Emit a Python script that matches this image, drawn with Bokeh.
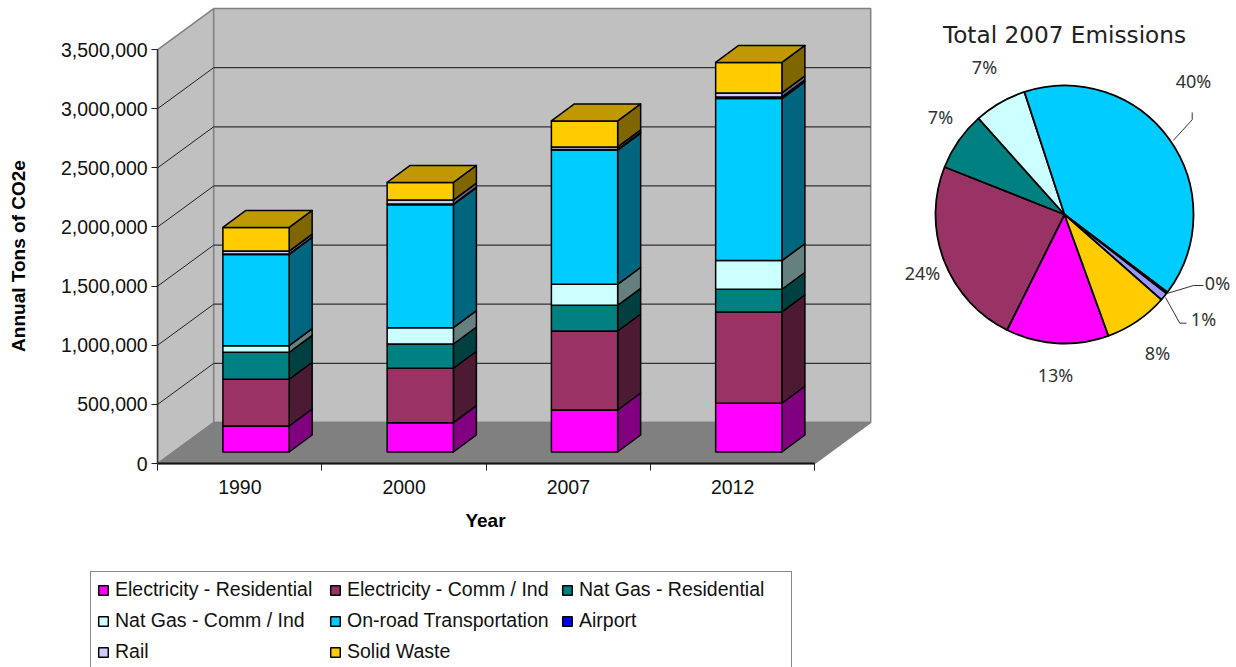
from bokeh.embed import file_html
from bokeh.resources import INLINE
from bokeh.plotting import figure
from bokeh.models import (Range1d, FixedTicker, NumeralTickFormatter, Legend, LegendItem, Label)
from bokeh.core.properties import value
import math

years = ["1990", "2000", "2007", "2012"]
series = ["Electricity - Residential", "Electricity - Comm / Ind", "Nat Gas - Residential",
          "Nat Gas - Comm / Ind", "On-road Transportation", "Airport", "Rail", "Solid Waste"]
elec_res = [220000, 248000, 355000, 412000]
elec_com = [395000, 460000, 668000, 772000]
gas_res = [228000, 205000, 217000, 192000]
gas_com = [56000, 138000, 178000, 242000]
onroad = [771000, 1040000, 1135000, 1370000]
airport = [4000, 5000, 5000, 14000]
rail = [25000, 34000, 21000, 34000]
waste = [200000, 149000, 220000, 258000]
stacks = [elec_res, elec_com, gas_res, gas_com, onroad, airport, rail, waste]

pie_title = "Total 2007 Emissions"
pie_share = [12.9, 23.7, 7.4, 6.6, 40.4, 0.2, 1.0, 8.0]
pie_text = ["13%", "24%", "7%", "7%", "40%", "0%", "1%", "8%"]

# ---- styles / layout ----
front = ["#ff00ff", "#993366", "#008080", "#ccffff", "#00ccff", "#0000ff", "#ccccff", "#ffcc00"]
side = ["#800080", "#4d1a33", "#004040", "#668080", "#006680", "#000080", "#666680", "#806600"]
top_face = "#c09900"
pie_colors = ["#ff00ff", "#993366", "#008080", "#ccffff", "#00ccff", "#0000ff", "#9999ff", "#ffcc00"]

W, H = 1236, 667
X0, Y0 = 157.2, 463.0            # canvas position of the axes' origin
PX_X = 164.25                    # px per category
PX_Y = 118.28 / 1e6              # px per ton
FONT = "Liberation Sans"
TICK_SIZE = "19.5px"
BOLD_SIZE = "19px"

wall_dx, wall_dy = 56 / PX_X, 41 / PX_Y
bar_dx, bar_dy = 23 / PX_X, 17 / PX_Y
bar_l, bar_w = 65.2 / PX_X, 66.25 / PX_X
bar_base = 11.5 / PX_Y
YMAX_AXIS = 3500000

p = figure(width=W, height=H, output_backend="svg", toolbar_location=None,
           min_border_left=0, min_border_bottom=0, min_border_right=0, min_border_top=0,
           x_range=Range1d(-X0 / PX_X, (W - X0) / PX_X),
           y_range=Range1d(-(H - Y0) / PX_Y, Y0 / PX_Y),
           outline_line_color=None)
p.grid.visible = False

# walls and floor
wall_line = "#808080"
p.patch([0, wall_dx, wall_dx, 0], [0, wall_dy, YMAX_AXIS + wall_dy, YMAX_AXIS],
        fill_color="#c0c0c0", line_color=wall_line, line_width=1.5)
p.patch([wall_dx, 4 + wall_dx, 4 + wall_dx, wall_dx],
        [wall_dy, wall_dy, YMAX_AXIS + wall_dy, YMAX_AXIS + wall_dy],
        fill_color="#c0c0c0", line_color=wall_line, line_width=1.5)
p.patch([0, 4, 4 + wall_dx, wall_dx], [0, 0, wall_dy, wall_dy],
        fill_color="#808080", line_color=wall_line, line_width=1.5)

# gridlines on both walls
levels = list(range(500000, YMAX_AXIS + 1, 500000))
grid_levels = levels[:-1]
p.segment([0] * len(grid_levels), grid_levels, [wall_dx] * len(grid_levels),
          [v + wall_dy for v in grid_levels], line_color="#222222", line_width=1)
p.segment([wall_dx] * len(grid_levels), [v + wall_dy for v in grid_levels],
          [4 + wall_dx] * len(grid_levels), [v + wall_dy for v in grid_levels],
          line_color="#333333", line_width=1.2)

# 3-D stacked bars
legend_renderers = [None] * len(series)
for b in range(len(years)):
    x0 = b + bar_l
    x1 = x0 + bar_w
    base = bar_base
    for s, vals in enumerate(stacks):
        top = base + vals[b]
        p.patch([x1, x1 + bar_dx, x1 + bar_dx, x1], [base, base + bar_dy, top + bar_dy, top],
                fill_color=side[s], line_color="black", line_width=1.5, line_join="round")
        r = p.quad(left=[x0], right=[x1], bottom=[base], top=[top],
                   fill_color=front[s], line_color="black", line_width=1.5)
        if legend_renderers[s] is None:
            legend_renderers[s] = r
        base = top
    p.patch([x0, x1, x1 + bar_dx, x0 + bar_dx], [base, base, base + bar_dy, base + bar_dy],
            fill_color=top_face, line_color="black", line_width=1.5, line_join="round")

# axes
xa = p.xaxis[0]
xa.fixed_location = 0
xa.bounds = (0, 4)
xa.ticker = FixedTicker(ticks=[i + 0.5 for i in range(4)], minor_ticks=list(range(5)))
xa.major_label_overrides = {i + 0.5: years[i] for i in range(4)}
xa.major_tick_in = 0
xa.major_tick_out = 0
xa.minor_tick_in = 0
xa.minor_tick_out = 7
xa.minor_tick_line_color = "#222222"
xa.axis_line_color = "#111111"
xa.axis_line_width = 2
xa.major_label_standoff = 9
xa.major_label_text_font = FONT
xa.major_label_text_font_size = TICK_SIZE
xa.major_label_text_color = "#111111"

ya = p.yaxis[0]
ya.fixed_location = 0
ya.bounds = (0, YMAX_AXIS)
ya.ticker = FixedTicker(ticks=[0] + levels)
ya.formatter = NumeralTickFormatter(format="0,0")
ya.major_tick_in = 0
ya.major_tick_out = 6
ya.minor_tick_in = 0
ya.minor_tick_out = 0
ya.major_tick_line_color = "#222222"
ya.axis_line_color = "#333333"
ya.axis_line_width = 1.5
ya.major_label_standoff = 4
ya.major_label_text_font = FONT
ya.major_label_text_font_size = TICK_SIZE
ya.major_label_text_color = "#111111"

# axis titles
p.add_layout(Label(x=(485 - X0) / PX_X, y=-(520 - Y0) / PX_Y, text="Year",
                   text_font=FONT, text_font_size=BOLD_SIZE, text_font_style="bold",
                   text_align="center", text_baseline="middle", text_color="black"))
p.add_layout(Label(x=(18 - X0) / PX_X, y=-(255.5 - Y0) / PX_Y, text="Annual Tons of CO2e",
                   angle=90, angle_units="deg",
                   text_font=FONT, text_font_size=BOLD_SIZE, text_font_style="bold",
                   text_align="center", text_baseline="middle", text_color="black"))

# legend
legend = Legend(items=[LegendItem(label=series[i], renderers=[legend_renderers[i]]) for i in range(len(series))],
                ncols=3, location=(90, -3), orientation="horizontal",
                label_text_font=FONT, label_text_font_size=TICK_SIZE, label_text_color="#111111",
                glyph_width=12, glyph_height=12, label_standoff=6, label_width=206,
                spacing=8, padding=6, margin=0,
                border_line_color="#111111", border_line_width=1, background_fill_alpha=1,
                background_fill_color="white")
p.add_layout(legend)

# ---- pie, on pixel-scaled ranges of its own ----
CX, CY, RADIUS = 1064, 214, 129      # canvas position of the pie
START = 160.1                         # clockwise from north
p.extra_x_ranges["pie_x"] = Range1d(-CX, W - CX)
p.extra_y_ranges["pie_y"] = Range1d(CY - H, CY)
rng = dict(x_range_name="pie_x", y_range_name="pie_y")

total = sum(pie_share)
theta = START
for i, sh in enumerate(pie_share):
    next_theta = theta + sh / total * 360
    p.wedge([0], [0], radius=RADIUS, start_angle=math.radians(90 - theta),
            end_angle=math.radians(90 - next_theta), direction="clock",
            fill_color=pie_colors[i], line_color="black", line_width=1.8, **rng)
    theta = next_theta

p.text([0], [CY - 34], text=[pie_title], text_font=value("DejaVu Sans"), text_font_size="23.2px",
       text_align="center", text_baseline="middle", text_color="#222222", **rng)

label_dx = [-9, -142, -124, -80, 129, 153, 139, 93]
label_dy = [-160, -58, 98, 148, 134, -68, -104, -138]
p.text(label_dx, label_dy, text=pie_text, text_font=value("Noto Sans"), text_font_size="18px",
       text_align="center", text_baseline="middle", text_color="#333333", **rng)

for xs, ys in [([108.7, 127.7, 127.7], [74, 94.7, 102]),
               ([102.5, 129, 139], [-79, -71, -71]),
               ([101, 115.3, 122], [-83, -108.7, -108.7])]:
    p.line(xs, ys, line_color="#333333", line_width=1, **rng)

open("out.html", "w").write(file_html(p, INLINE))
